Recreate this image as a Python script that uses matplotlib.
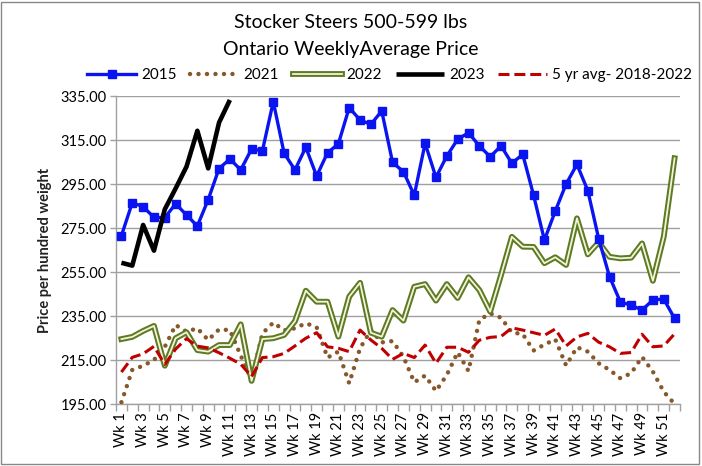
import matplotlib
matplotlib.use("Agg")
import matplotlib.pyplot as plt
import matplotlib.patheffects as pe
from matplotlib.patches import Rectangle
import numpy as np

weeks = list(range(1, 53))
week_labels = [f"Wk {w}" for w in weeks]

w2015 = [271.5, 286.5, 284.7, 279.8, 279.7, 286.0, 280.9, 275.9, 287.9, 302.0,
         306.4, 301.4, 310.9, 310.1, 332.4, 309.0, 301.4, 311.7, 298.6, 309.2,
         313.2, 329.7, 324.1, 322.1, 328.2, 304.8, 300.6, 289.9, 313.5, 298.0,
         307.7, 315.3, 318.3, 312.3, 307.4, 312.3, 304.4, 308.5, 289.9, 269.5,
         282.7, 295.0, 303.9, 292.0, 270.2, 252.9, 241.4, 239.9, 237.7, 242.3,
         242.7, 233.9]

w2021 = [195.8, 210.5, 212.4, 215.0, 221.0, 230.9, 227.9, 229.4, 224.1, 228.9,
         228.6, 217.0, 206.0, 227.1, 232.0, 228.5, 229.4, 231.7, 229.9, 216.1,
         218.8, 204.4, 220.3, 228.6, 223.0, 223.6, 216.5, 204.9, 207.9, 200.9,
         208.2, 218.5, 210.0, 233.2, 236.2, 234.2, 227.5, 226.8, 219.3, 222.0,
         224.4, 212.5, 220.8, 218.8, 213.5, 210.5, 206.7, 209.0, 216.4, 209.7,
         200.6, 195.0]

w2022 = [224.5, 225.5, 228.2, 230.5, 212.4, 224.9, 227.6, 219.5, 218.8, 221.8,
         221.8, 231.2, 205.5, 224.5, 224.9, 226.4, 232.6, 246.5, 241.5, 241.5,
         225.6, 243.8, 250.1, 227.4, 225.6, 237.7, 232.9, 248.3, 249.5, 242.0,
         249.5, 243.2, 252.6, 246.8, 237.0, 253.6, 271.0, 266.5, 266.4, 259.0,
         261.7, 258.2, 279.4, 263.0, 268.5, 261.9, 261.2, 261.5, 268.0, 251.0,
         271.0, 306.7]

w2023 = [259.2, 257.9, 276.4, 264.7, 283.5, 293.0, 302.9, 319.2, 302.1, 322.9,
         333.2]

w5yr = [209.5, 216.2, 217.8, 221.2, 213.0, 220.0, 224.7, 221.3, 220.5, 218.3,
        215.8, 213.1, 207.5, 216.1, 216.5, 218.0, 221.4, 224.9, 227.4, 221.0,
        220.3, 218.8, 228.6, 224.1, 220.3, 215.3, 218.0, 216.1, 221.8, 213.5,
        220.8, 220.8, 218.5, 224.0, 225.3, 225.7, 229.6, 228.6, 227.4, 226.2,
        229.1, 221.4, 225.5, 227.1, 223.1, 221.0, 218.0, 218.4, 226.7, 221.0,
        221.4, 226.9]

yticks = [195, 215, 235, 255, 275, 295, 315, 335]

plt.rcParams['font.family'] = ['Lato', 'DejaVu Sans']

fig = plt.figure(figsize=(7.02, 4.66), dpi=100)
ax = fig.add_axes([116/702, 62/466, 564/702, 308/466])

olive = '#5E7A22'
inner = '#F2F4DC'
grid_c = '#A0A0A0'

ax.plot(weeks, w2015, color='#0A14F0', lw=2.4, marker='s', markersize=5.5,
        label='2015', zorder=5)
ax.plot(weeks, w2021, color='#87582A', lw=3.2, linestyle=(0, (0.01, 1.9)),
        dash_capstyle='round', label='2021', zorder=3)
ax.plot(weeks, w2022, color=inner, lw=1.3, label='2022', zorder=4,
        path_effects=[pe.Stroke(linewidth=4.2, foreground=olive), pe.Normal()])
ax.plot(weeks[:len(w2023)], w2023, color='black', lw=3.3, label='2023',
        zorder=6, solid_capstyle='butt')
ax.plot(weeks, w5yr, color='#C00000', lw=2.2, linestyle=(0, (3.6, 1.6)),
        label='5 yr avg- 2018-2022', zorder=4)

ax.set_xlim(0.5, 52.5)
ax.set_ylim(195, 335)
ax.set_yticks(yticks)
ax.set_yticklabels([f"{v:.2f}" for v in yticks], fontsize=10.5)
ax.yaxis.grid(True, color=grid_c, lw=1.0)
ax.set_axisbelow(True)

odd = [w for w in weeks if w % 2 == 1]
ax.set_xticks(odd)
ax.set_xticklabels([week_labels[w - 1] for w in odd], rotation=90, fontsize=10.5)
ax.set_xticks(np.arange(0.5, 53, 1.0), minor=True)
ax.tick_params(axis='x', which='major', length=0, pad=6)
ax.tick_params(axis='x', which='minor', length=5, color=grid_c, width=1)
ax.tick_params(axis='y', length=4, color=grid_c, width=1, pad=3)

for s in ['top', 'right']:
    ax.spines[s].set_visible(False)
for s in ['left', 'bottom']:
    ax.spines[s].set_color(grid_c)
    ax.spines[s].set_linewidth(1.0)

ax.set_ylabel('Price per hundred weight', fontsize=10.5, fontweight='bold',
              color='#222222', labelpad=6)

fig.text(0.5, 1 - 22/466, 'Stocker Steers 500-599 lbs', ha='center', va='center',
         fontsize=14)
fig.text(0.5, 1 - 50/466, 'Ontario WeeklyAverage Price', ha='center', va='center',
         fontsize=14)

fig.legend(loc='center', bbox_to_anchor=(0.555, 1 - 75/466), ncol=5, frameon=False,
           fontsize=11, handlelength=3.2, columnspacing=0.9, handletextpad=0.3,
           borderaxespad=0)

fig.patches.append(Rectangle((0.002, 0.004), 0.994, 0.992, transform=fig.transFigure,
                             fill=False, edgecolor='#888888', lw=1.0))

fig.savefig('out.png', dpi=100)
